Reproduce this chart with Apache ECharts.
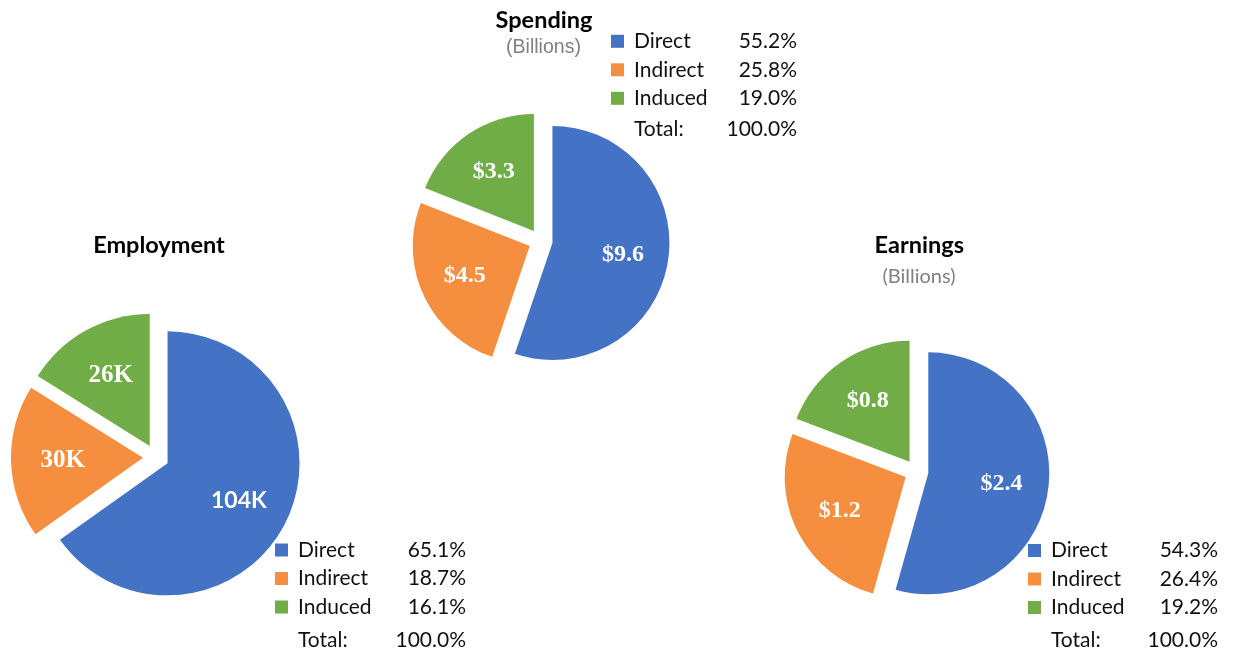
<!DOCTYPE html>
<html><head><meta charset="utf-8">
<script src="https://cdn.jsdelivr.net/npm/echarts@6/dist/echarts.min.js"></script>
<style>html,body{margin:0;padding:0;background:#fff}#c{width:1235px;height:653px}</style>
</head><body><div id="c"></div>
<script>
// ---- data ----
const categories = ['Direct', 'Indirect', 'Induced'];
const spendingPct = [55.2, 25.8, 19.0];
const spendingLabels = ['$9.6', '$4.5', '$3.3'];
const employmentPct = [65.1, 18.7, 16.1];
const employmentLabels = ['104K', '30K', '26K'];
const earningsPct = [54.3, 26.4, 19.2];
const earningsLabels = ['$2.4', '$1.2', '$0.8'];
const totalText = 'Total:';
const totalPct = ['100.0%', '100.0%', '100.0%'];
const titles = ['Spending', 'Employment', 'Earnings'];
const subtitle = '(Billions)';

// ---- styles ----
const colors = ['#4472C4', '#F58E3F', '#70AD47'];
const SANS = 'Lato, "Noto Sans", sans-serif';
const SERIF = '"Liberation Serif", "DejaVu Serif", serif';

function pieSeries(pct, labels, center, r, off, labelFonts) {
  const main = {
    type: 'pie', center: center, radius: r, startAngle: 90, clockwise: true,
    selectedMode: 'multiple', selectedOffset: off, silent: true, animation: false,
    label: { show: false }, labelLine: { show: false },
    emphasis: { disabled: true },
    itemStyle: { borderWidth: 0 },
    data: categories.map((n, i) => ({ name: n, value: pct[i], selected: true, itemStyle: { color: colors[i] } }))
  };
  const overlay = {
    type: 'pie', center: center, radius: r * 1.17, startAngle: 90, clockwise: true,
    selectedMode: 'multiple', selectedOffset: off, silent: true, animation: false,
    emphasis: { disabled: true },
    itemStyle: { color: 'rgba(0,0,0,0)', borderWidth: 0 },
    labelLine: { show: false },
    label: { show: true, position: 'inside', color: '#fff', fontWeight: 'bold',
      formatter: p => labels[p.dataIndex] },
    data: categories.map((n, i) => ({ name: n, value: pct[i], selected: true,
      label: labelFonts[i] }))
  };
  return [main, overlay];
}

const series = [].concat(
  pieSeries(spendingPct, spendingLabels, [540.6, 241], 117, 12,
    [0,1,2].map(() => ({ fontFamily: SERIF, fontSize: 24 }))),
  pieSeries(employmentPct, employmentLabels, [156, 457.4], 132, 13,
    [{ fontFamily: SANS, fontSize: 23 }, { fontFamily: SERIF, fontSize: 25 }, { fontFamily: SERIF, fontSize: 25 }]),
  pieSeries(earningsPct, earningsLabels, [916.4, 471.7], 121, 12,
    [0,1,2].map(() => ({ fontFamily: SERIF, fontSize: 24 })))
);

function legend(pct, left, firstRowCenter, nW, pW) {
  return {
    orient: 'vertical', left: left, top: firstRowCenter - 11, padding: 0,
    itemWidth: 13, itemHeight: 13, itemGap: 6.5, icon: 'rect',
    selectedMode: false,
    data: categories.map((n, i) => ({ name: n, itemStyle: { color: colors[i] } })),
    formatter: name => `{s|}{n|${name}}{p|${pct[categories.indexOf(name)].toFixed(1)}%}`,
    textStyle: {
      color: '#111', fontFamily: SANS, fontSize: 21, height: 22, lineHeight: 22,
      rich: {
        s: { width: 5, height: 22, lineHeight: 22 },
        n: { width: nW, height: 22, fontFamily: SANS, fontSize: 21, lineHeight: 22, color: '#111' },
        p: { width: pW, height: 22, align: 'right', fontFamily: SANS, fontSize: 21, lineHeight: 22, color: '#111' }
      }
    }
  };
}

function txt(text, x, y, align, size, weight, color, family) {
  return { type: 'text', x: x, y: y, silent: true,
    style: { text: text, textAlign: align, textVerticalAlign: 'middle', fontSize: size,
      fontWeight: weight, fill: color, fontFamily: family } };
}

const graphics = [
  txt(titles[0], 544, 20, 'center', 23.5, 'bold', '#000', SANS),
  txt(subtitle, 543.5, 48, 'center', 19.5, 'normal', '#808080', '"Liberation Sans", Arial, sans-serif'),
  txt(titles[1], 159, 245, 'center', 23.5, 'bold', '#000', SANS),
  txt(titles[2], 919.3, 245, 'center', 23.5, 'bold', '#000', SANS),
  txt(subtitle, 919, 277, 'center', 20, 'normal', '#808080', SANS),
  txt(totalText, 634, 129.5, 'left', 21, 'normal', '#111', SANS),
  txt(totalPct[0], 797, 129.5, 'right', 21, 'normal', '#111', SANS),
  txt(totalText, 298, 640, 'left', 21, 'normal', '#111', SANS),
  txt(totalPct[1], 466, 640, 'right', 21, 'normal', '#111', SANS),
  txt(totalText, 1051, 640, 'left', 21, 'normal', '#111', SANS),
  txt(totalPct[2], 1218, 640, 'right', 21, 'normal', '#111', SANS)
];

const chart = echarts.init(document.getElementById('c'), null, { renderer: 'canvas' });
chart.setOption({
  backgroundColor: '#fff',
  animation: false,
  legend: [
    legend(spendingPct, 611, 41.3, 83, 80),
    legend(employmentPct, 275, 550, 88, 80),
    legend(earningsPct, 1028, 550.5, 87, 80)
  ],
  graphic: graphics,
  series: series
});
</script>
</body></html>
